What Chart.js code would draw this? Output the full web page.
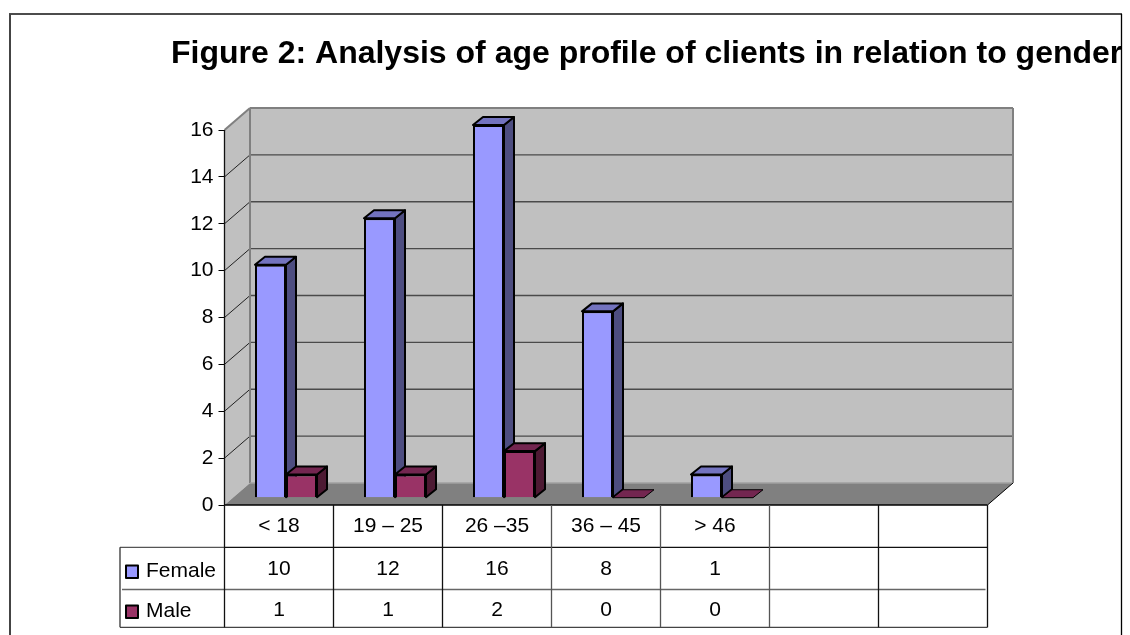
<!DOCTYPE html>
<html>
<head>
<meta charset="utf-8">
<style>html,body{margin:0;padding:0;background:#fff}canvas{display:block}</style>
<script src="https://cdn.jsdelivr.net/npm/chart.js@4"></script>
</head>
<body>
<canvas id="c" width="1130" height="635"></canvas>
<script>
const titleText = 'Figure 2: Analysis of age profile of clients in relation to gender';
const categories = ['< 18', '19 – 25', '26 –35', '36 – 45', '> 46', '', ''];
const female = [10, 12, 16, 8, 1, null, null];
const male = [1, 1, 2, 0, 0, null, null];
const yTicks = [0, 2, 4, 6, 8, 10, 12, 14, 16];

const FONT = '"Liberation Sans", Arial, sans-serif';
const WALL = {dx: 25.5, dy: -22};
const BAR3D = {dx: 10, dy: -8, shiftX: 7, base: 497.7, k: 372.7 / 375};
const faces = {
  Female: {top: '#7373BF', side: '#4D4D80'},
  Male: {top: '#732650', side: '#4D1A33'}
};

function poly(ctx, pts, fill, stroke, lw) {
  ctx.beginPath();
  pts.forEach((p, i) => i ? ctx.lineTo(p[0], p[1]) : ctx.moveTo(p[0], p[1]));
  ctx.closePath();
  if (fill) { ctx.fillStyle = fill; ctx.fill(); }
  if (stroke) { ctx.strokeStyle = stroke; ctx.lineWidth = lw; ctx.lineJoin = 'round'; ctx.stroke(); }
}
function line(ctx, x1, y1, x2, y2, color, lw) {
  ctx.beginPath(); ctx.moveTo(x1, y1); ctx.lineTo(x2, y2);
  ctx.strokeStyle = color; ctx.lineWidth = lw; ctx.stroke();
}
function begin3d(chart, meta) {
  const {ctx} = chart;
  const b = BAR3D;
  const f = faces[meta.label];
  const values = chart.data.datasets[meta.index].data;
  ctx.save();
  ctx.translate(b.shiftX, b.base);
  ctx.scale(1, b.k);
  ctx.translate(0, -chart.scales.y.getPixelForValue(0));
  meta.data.forEach((bar, i) => {
    if (values[i] === null) return;
    const x0 = bar.x - bar.width / 2, x1 = bar.x + bar.width / 2;
    const top = bar.y, base = bar.base;
    const solid = base - top > 1;
    if (solid) {
      poly(ctx, [[x1, top], [x1 + b.dx, top + b.dy], [x1 + b.dx, base + b.dy], [x1, base]], f.side, '#000', 2);
    }
    poly(ctx, [[x0, top], [x0 + b.dx, top + b.dy], [x1 + b.dx, top + b.dy], [x1, top]], f.top, '#000', solid ? 2 : 1);
  });
}

const scene = {
  id: 'scene',
  beforeDatasetsDraw(chart) {
    const {ctx, chartArea: a, scales: {y}} = chart;
    const d = WALL;
    const L = a.left, R = a.right, T = y.getPixelForValue(16), B = y.getPixelForValue(0);
    ctx.save();
    ctx.fillStyle = '#000';
    ctx.font = 'bold 32px ' + FONT;
    ctx.textAlign = 'left'; ctx.textBaseline = 'alphabetic';
    ctx.save();
    ctx.beginPath(); ctx.rect(10, 13, 1111, 622); ctx.clip();
    ctx.fillText(titleText, 171, 63);
    ctx.restore();
    line(ctx, 9, 14, 1122, 14, '#111', 1.3);
    line(ctx, 10, 14, 10, 635, '#444', 2);
    line(ctx, 1121.5, 14, 1121.5, 635, '#000', 1.3);
    poly(ctx, [[L, B], [L + d.dx, B + d.dy], [L + d.dx, T + d.dy], [L, T]], '#C0C0C0');
    poly(ctx, [[L + d.dx, T + d.dy], [R + d.dx, T + d.dy], [R + d.dx, B + d.dy], [L + d.dx, B + d.dy]], '#C0C0C0');
    yTicks.forEach(v => {
      const p = y.getPixelForValue(v);
      if (v > 0 && v < 16) {
        line(ctx, L + d.dx, p + d.dy, R + d.dx, p + d.dy, '#4a4a4a', 1.3);
        line(ctx, L, p, L + d.dx, p + d.dy, '#222', 1);
      }
    });
    poly(ctx, [[L, B], [L + d.dx, B + d.dy], [R + d.dx, B + d.dy], [R, B]], '#808080');
    line(ctx, L, T, L + d.dx, T + d.dy, '#808080', 2);
    line(ctx, L + d.dx, T + d.dy, R + d.dx, T + d.dy, '#808080', 2);
    line(ctx, L + d.dx, T + d.dy, L + d.dx, B + d.dy, '#808080', 2);
    line(ctx, R + d.dx, T + d.dy, R + d.dx, B + d.dy, '#808080', 2);
    line(ctx, L + d.dx, B + d.dy, R + d.dx, B + d.dy, '#A0A0A0', 1.5);
    line(ctx, R, B, R + d.dx, B + d.dy, '#000', 1);
    line(ctx, L, T, L, B, '#111', 1.3);
    ctx.restore();
  },
  beforeDatasetDraw(chart, args) {
    // Male is painted straight after Female, so it sits in front of Female's side face.
    if (args.meta.label === 'Male') return false;
    begin3d(chart, args.meta);
  },
  afterDatasetDraw(chart, args) {
    chart.ctx.restore();
    if (args.meta.label === 'Female') {
      const m = chart.getDatasetMeta(1);
      begin3d(chart, m);
      m.controller.draw();
      chart.ctx.restore();
    }
  },
  afterDraw(chart) {
    const {ctx, chartArea: a, scales: {x, y}} = chart;
    const L = a.left, R = a.right, Y0 = y.getPixelForValue(0);
    const rows = [Y0, 547.3, 589.5, 627.3];
    const tableLeft = 120;
    ctx.save();
    line(ctx, L, rows[0], R, rows[0], '#000', 1.5);
    line(ctx, L, rows[1], R, rows[1], '#111', 1.3);
    line(ctx, tableLeft + 2, rows[2], R - 2, rows[2], '#666', 1.3);
    line(ctx, tableLeft, rows[1], L, rows[1], '#555', 1.3);
    line(ctx, tableLeft, rows[3], R, rows[3], '#444', 1.3);
    line(ctx, tableLeft, rows[1], tableLeft, rows[3], '#333', 1.3);
    const cw = (R - L) / categories.length;
    for (let i = 0; i <= categories.length; i++) {
      const px = L + i * cw;
      line(ctx, px, Y0, px, rows[3], i >= 3 && i <= 5 ? '#555' : '#111', 1.3);
    }
    ctx.font = '21px ' + FONT;
    ctx.fillStyle = '#000';
    ctx.textAlign = 'center'; ctx.textBaseline = 'alphabetic';
    categories.forEach((c, i) => {
      const cx = x.getPixelForValue(i);
      if (c) ctx.fillText(c, cx, 531.5);
      if (female[i] !== null) ctx.fillText(String(female[i]), cx, 575);
      if (male[i] !== null) ctx.fillText(String(male[i]), cx, 615.5);
    });
    ctx.textAlign = 'left';
    ctx.fillText('Female', 146, 577);
    ctx.fillText('Male', 146, 617);
    poly(ctx, [[126, 565.5], [138, 565.5], [138, 578], [126, 578]], '#9999FF', '#000', 2);
    poly(ctx, [[126, 605.5], [138, 605.5], [138, 618], [126, 618]], '#993366', '#000', 2);
    ctx.restore();
  }
};

new Chart(document.getElementById('c'), {
  type: 'bar',
  data: {
    labels: categories,
    datasets: [
      {label: 'Female', data: female, backgroundColor: '#9999FF', borderColor: '#000', borderWidth: 2, clip: false},
      {label: 'Male', data: male, backgroundColor: '#993366', borderColor: '#000', borderWidth: 2, clip: false}
    ]
  },
  options: {
    responsive: false,
    animation: false,
    devicePixelRatio: 1,
    layout: {padding: {left: 0, top: 130, right: 142.5, bottom: 130}},
    datasets: {bar: {barPercentage: 1, categoryPercentage: 0.569}},
    plugins: {legend: {display: false}, title: {display: false}, tooltip: {enabled: false}},
    scales: {
      x: {display: false},
      y: {
        min: 0, max: 16,
        afterFit(s) { s.width = 224.5; },
        afterBuildTicks(s) { s.ticks = yTicks.map(v => ({value: v})); },
        border: {display: false},
        grid: {drawOnChartArea: false, tickLength: 6, tickColor: '#000', lineWidth: 1},
        ticks: {color: '#000', padding: 5, font: {family: FONT, size: 21}}
      }
    }
  },
  plugins: [scene]
});
</script>
</body>
</html>
